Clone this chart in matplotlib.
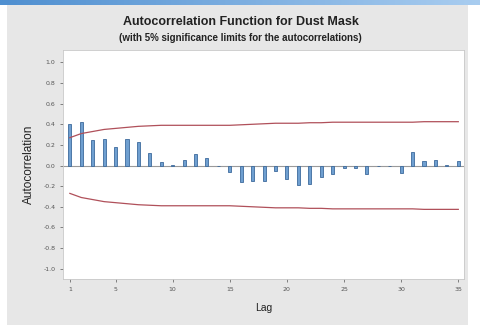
import numpy as np
import matplotlib.pyplot as plt
from matplotlib.patches import Rectangle
from matplotlib.colors import LinearSegmentedColormap

# === Data ===
lags = list(range(1, 36))
acf = [0.40, 0.42, 0.25, 0.26, 0.18, 0.26, 0.23, 0.12, 0.03, 0.005,
       0.05, 0.11, 0.07, 0.0, -0.06, -0.16, -0.15, -0.15, -0.05, -0.13,
       -0.19, -0.18, -0.11, -0.08, -0.02, -0.02, -0.08, 0.0, 0.0, -0.07,
       0.13, 0.04, 0.05, 0.005, 0.04]
upper_limit = [0.27, 0.31, 0.33, 0.35, 0.36, 0.37, 0.38, 0.385, 0.39, 0.39,
               0.39, 0.39, 0.39, 0.39, 0.39, 0.395, 0.40, 0.405, 0.41, 0.41,
               0.41, 0.415, 0.415, 0.42, 0.42, 0.42, 0.42, 0.42, 0.42, 0.42,
               0.42, 0.425, 0.425, 0.425, 0.425]
lower_limit = [-v for v in upper_limit]
xticks = [1, 5, 10, 15, 20, 25, 30, 35]
yticks = [1.0, 0.8, 0.6, 0.4, 0.2, 0.0, -0.2, -0.4, -0.6, -0.8, -1.0]

W, H = 481, 325
fig = plt.figure(figsize=(W / 100, H / 100), dpi=100)
fig.patch.set_facecolor('white')

# gray panel (behind everything)
fig.patches.append(Rectangle((7 / W, 0), (468 - 7) / W, 1 - 5 / H,
                             transform=fig.transFigure, facecolor='#e7e7e7',
                             edgecolor='none', zorder=-10))

# blue band at the top
band = fig.add_axes([0, 1 - 5 / H, 1, 5 / H])
grad = np.linspace(0, 1, 256).reshape(1, -1)
band.imshow(grad, aspect='auto',
            cmap=LinearSegmentedColormap.from_list('b', ['#4f8fd0', '#a9cdf0']))
band.axis('off')

ax = fig.add_axes([63 / W, 1 - 279 / H, (464 - 63) / W, (279 - 50) / H])
ax.set_facecolor('white')

ax.axhline(0, color='#9a9a9a', lw=0.8, zorder=1)
ax.bar(lags, acf, width=0.27, color='#6f9fd0', edgecolor='#3d6a9c',
       linewidth=0.6, zorder=2)
ax.plot(lags, upper_limit, color='#b0505a', lw=0.9, zorder=3)
ax.plot(lags, lower_limit, color='#b0505a', lw=0.9, zorder=3)

ax.set_xlim(0.4, 35.5)
ax.set_ylim(-1.1, 1.12)
ax.set_xticks(xticks)
ax.set_yticks(yticks)
ax.set_yticklabels([f'{v:.1f}' for v in yticks])
ax.tick_params(labelsize=4.5, colors='#555555', length=2, width=0.5)
for s in ax.spines.values():
    s.set_color('#c8c8c8')
    s.set_linewidth(0.6)

ax.set_xlabel('Lag', fontsize=7.5, family='Liberation Sans', color='#222222', labelpad=8)
ax.set_ylabel('Autocorrelation', fontsize=8.5, family='Liberation Sans', color='#222222', labelpad=6)

fig.text(0.5, 1 - 22 / H, 'Autocorrelation Function for Dust Mask', ha='center', va='center',
         fontsize=9, fontweight='bold', family='Liberation Sans', color='#222222')
fig.text(0.5, 1 - 38 / H, '(with 5% significance limits for the autocorrelations)', ha='center',
         va='center', fontsize=7, fontweight='bold', family='Liberation Sans', color='#222222')

plt.savefig('out.png', dpi=100, facecolor=fig.get_facecolor())
